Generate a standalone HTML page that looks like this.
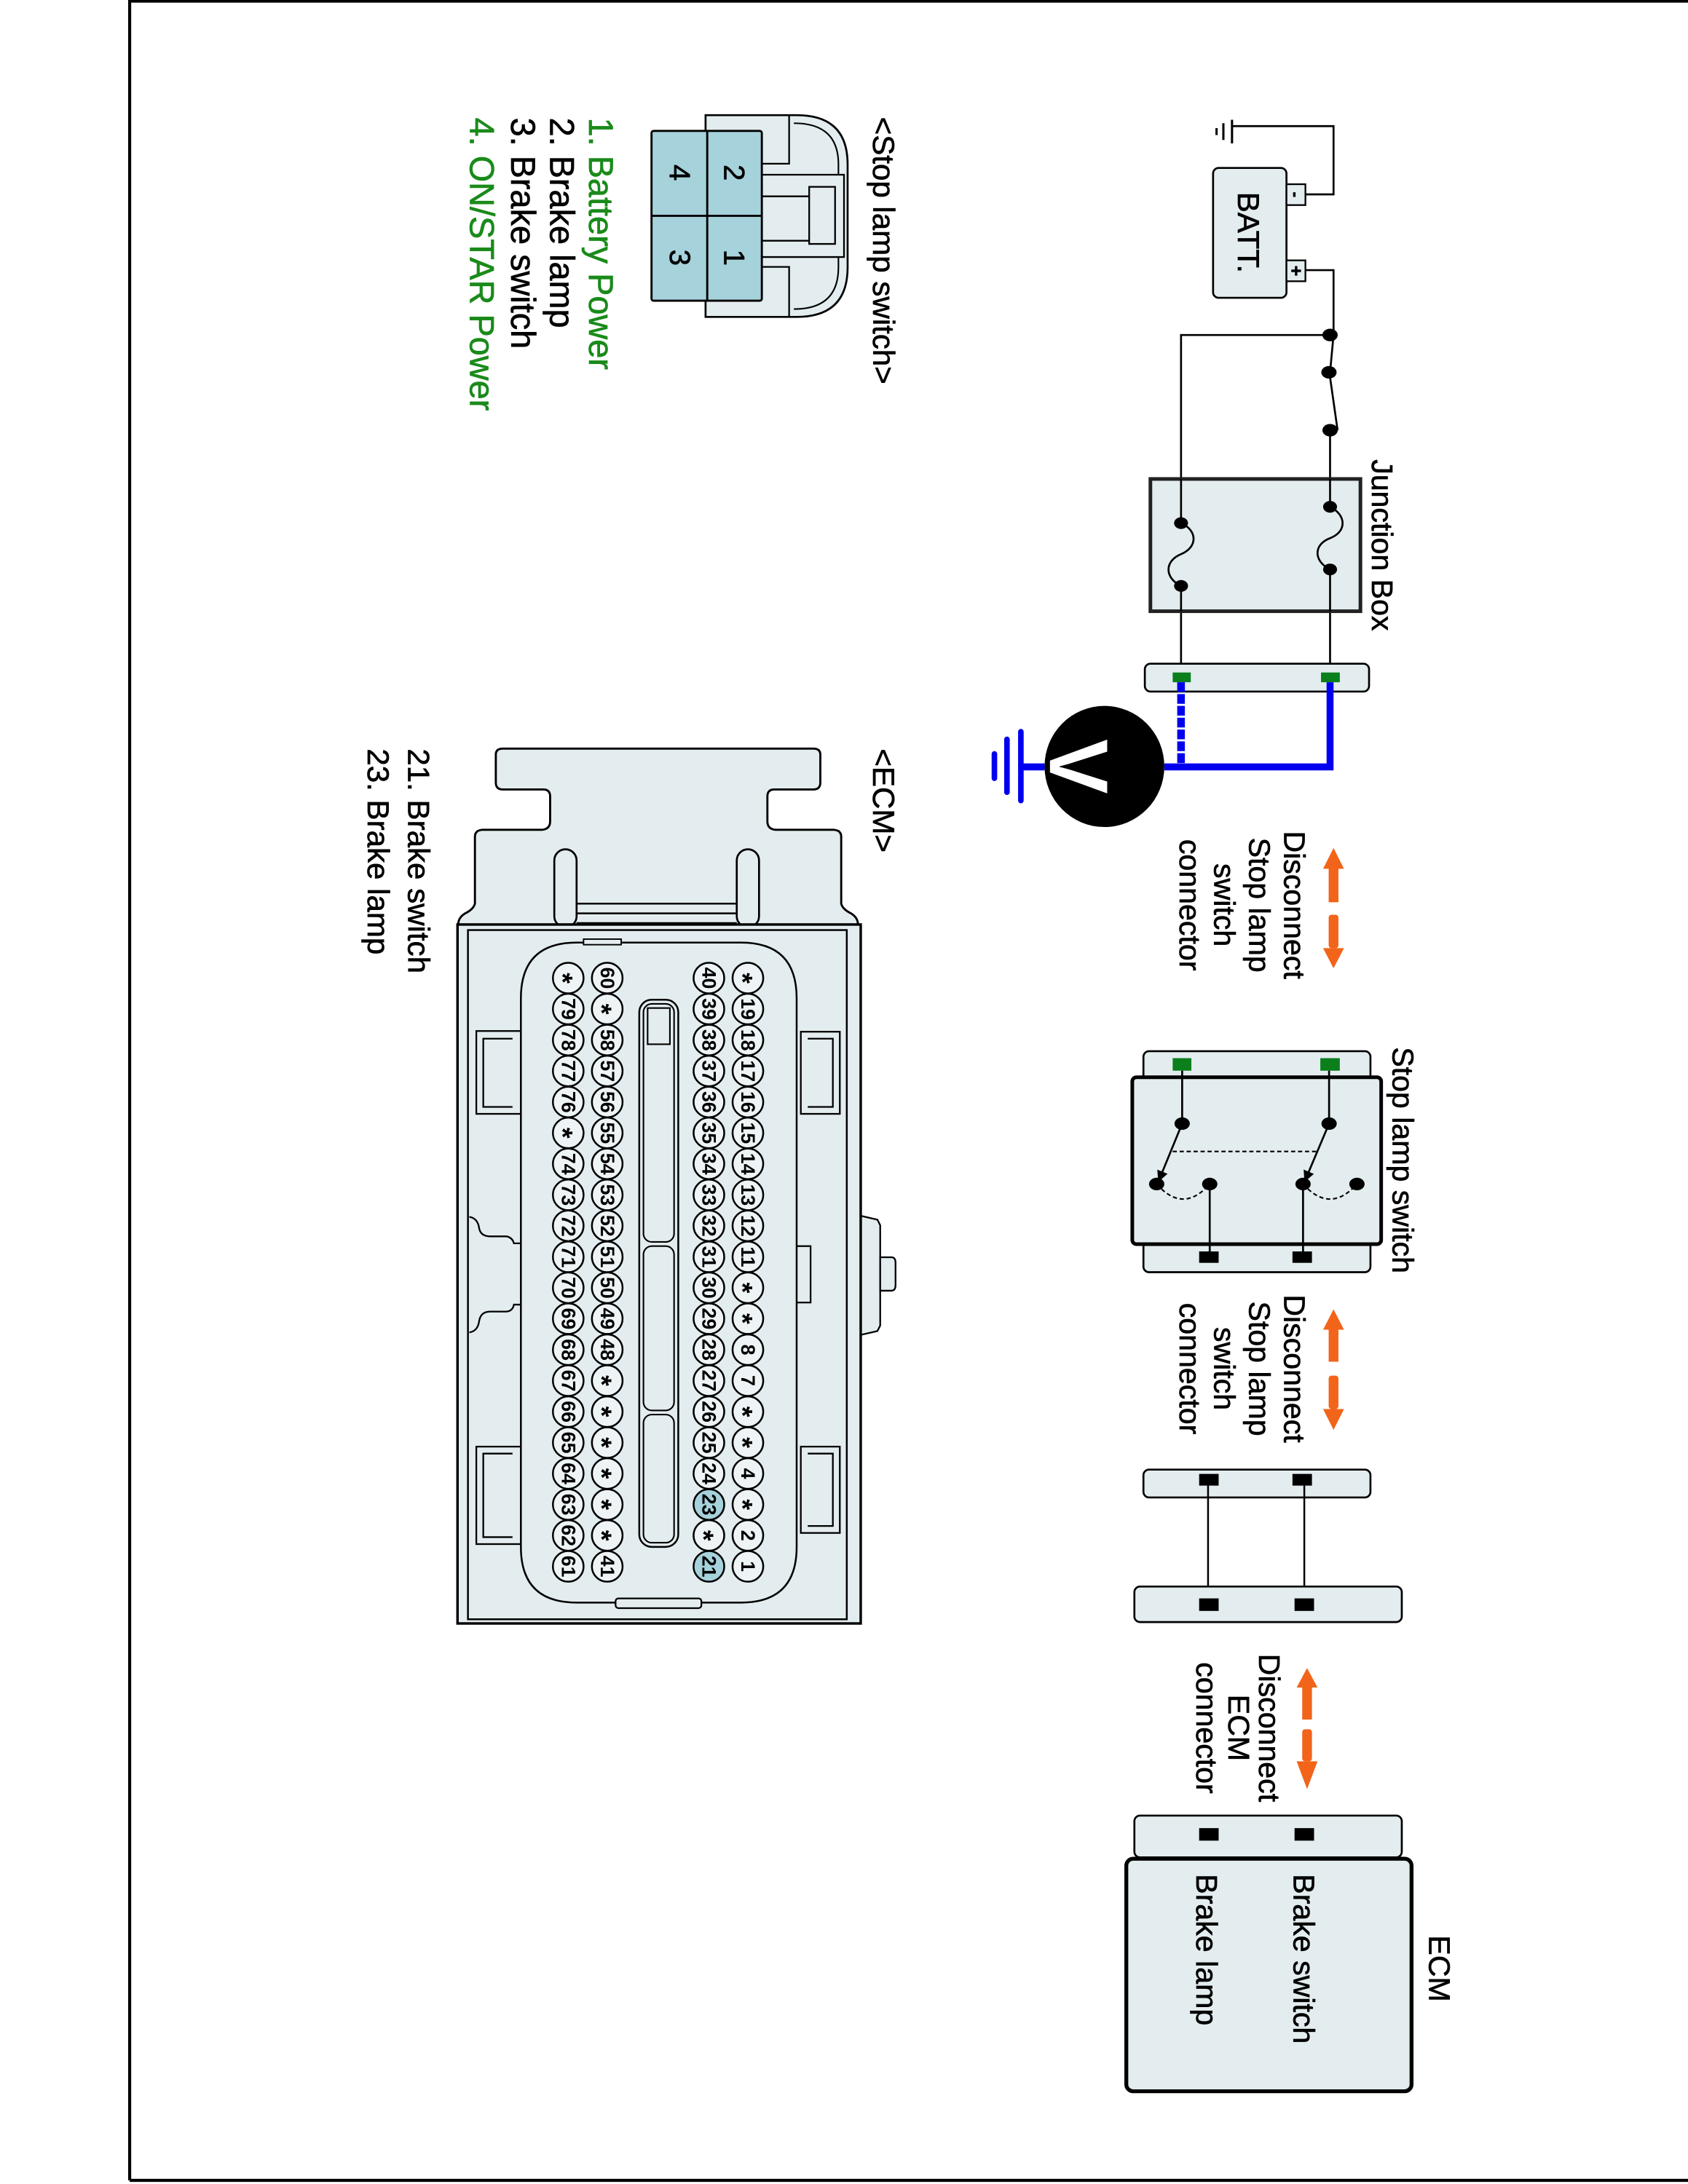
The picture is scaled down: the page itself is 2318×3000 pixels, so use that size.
<!DOCTYPE html>
<html><head><meta charset="utf-8"><style>
html,body{margin:0;padding:0;background:#fff}
svg{display:block}
text{font-family:"Liberation Sans",Arial,sans-serif;stroke:#000;stroke-width:0.35}
.p{font-size:14px;font-weight:bold;stroke-width:0;text-anchor:middle;dominant-baseline:central}
.g{fill:#1a8a1a;stroke:#1a8a1a}
</style></head><body>
<svg width="2318" height="3000" viewBox="0 0 1212 1568.6" xmlns="http://www.w3.org/2000/svg">
<defs>
<marker id="ar" markerWidth="8" markerHeight="8" refX="7" refY="4" orient="auto" markerUnits="userSpaceOnUse"><path d="M0,0 L8,4 L0,8 Z" fill="#000"/></marker>
</defs>
<rect x="0" y="0" width="1212" height="1568.6" fill="#fff"/>
<path d="M93.1,1566 L93.1,0.8 L1230,0.8 M93.1,1566 L1230,1566" fill="none" stroke="#000" stroke-width="2.2"/>

<g stroke="#000" stroke-width="1.4" fill="none">
<path d="M937.3,139.6 L957.5,139.6 L957.5,90.6 L884.6,90.6"/>
<path d="M884.6,86 L884.6,103 M878.4,88.5 L878.4,100.5 M873.5,92 L873.5,97" stroke-width="1.6"/>
<path d="M937.3,194 L957.5,194 L957.5,240.6 L955,267.4"/>
<path d="M955,240.6 L848,240.6 L848,476.7"/>
<path d="M954.5,267.4 L960.4,309"/>
<path d="M955,309 L955,476.7"/>
</g>
<rect x="871" y="120.6" width="52.7" height="93.3" rx="4" fill="#e3ecee" stroke="#000" stroke-width="1.4"/>
<rect x="923.7" y="132.3" width="13.6" height="15" fill="#e3ecee" stroke="#000" stroke-width="1.2"/>
<rect x="923.7" y="187" width="13.6" height="15" fill="#e3ecee" stroke="#000" stroke-width="1.2"/>
<text transform="translate(930.5,139.8) rotate(90)" font-size="12" font-weight="bold" text-anchor="middle" dominant-baseline="central">-</text>
<text transform="translate(930.5,194.5) rotate(90)" font-size="13" font-weight="bold" text-anchor="middle" dominant-baseline="central">+</text>
<text transform="translate(889,167) rotate(90)" font-size="22" text-anchor="middle">BATT.</text>
<g fill="#000"><ellipse cx="955" cy="240.6" rx="5.5" ry="4.5"/><ellipse cx="954.2" cy="267.4" rx="5.5" ry="4.5"/><ellipse cx="955" cy="309" rx="5.5" ry="4.5"/></g>

<rect x="826" y="344" width="150.8" height="95" fill="#e3ecee" stroke="#222" stroke-width="2.6"/>
<g stroke="#000" stroke-width="1.4" fill="none">
<path d="M955,344 L955,364 C967,370 967,382 955,386.5 C943,391 943,403 955,409 L955,439"/>
<path d="M848,344 L848,375.7 C860,381 860,393 848,398 C836,403 836,415 848,420.8 L848,439"/>
</g>
<g fill="#000"><ellipse cx="955" cy="364" rx="5" ry="4.2"/><ellipse cx="955" cy="409" rx="5" ry="4.2"/><ellipse cx="848" cy="375.7" rx="5" ry="4.2"/><ellipse cx="848" cy="420.8" rx="5" ry="4.2"/></g>
<text transform="translate(985,330) rotate(90)" font-size="21.5">Junction Box</text>

<rect x="822" y="476.7" width="161" height="20" rx="4" fill="#e3ecee" stroke="#000" stroke-width="1.4"/>
<rect x="842" y="483" width="13" height="7" fill="#0b7f1c"/>
<rect x="948.5" y="483" width="13.5" height="7" fill="#0b7f1c"/>

<path d="M955,490 L955,550.8 L836,550.8" fill="none" stroke="#0000ee" stroke-width="5"/>
<path d="M848,490 L848,550.8" fill="none" stroke="#0000ee" stroke-width="5.5" stroke-dasharray="7,1.5"/>
<path d="M750,550.8 L733,550.8" stroke="#0000ee" stroke-width="5"/>
<path d="M733,525.5 L733,575 M723,531 L723,569 M714,541.5 L714,559" stroke="#0000ee" stroke-width="4" stroke-linecap="round"/>
<ellipse cx="793" cy="550.5" rx="43" ry="43.5" fill="#000"/>
<text transform="translate(774,550.5) rotate(90)" font-size="60" font-weight="bold" fill="#fff" stroke="#fff" text-anchor="middle" dominant-baseline="central">V</text>

<g fill="#f26419">
<path d="M957.5,609 L965,624 L961,624 L961,648 L954,648 L954,624 L950,624 Z"/>
<rect x="954" y="657" width="7" height="24" rx="2"/>
<path d="M957.5,695.5 L965,681 L950,681 Z"/>
<path d="M957.5,940.4 L965,955 L961,955 L961,978 L954,978 L954,955 L950,955 Z"/>
<rect x="954" y="988" width="7" height="24" rx="2"/>
<path d="M957.5,1027 L965,1012 L950,1012 Z"/>
<path d="M938.5,1198 L946,1212 L942,1212 L942,1235 L935,1235 L935,1212 L931,1212 Z"/>
<rect x="935" y="1242" width="7" height="23" rx="2"/>
<path d="M938.5,1285 L946,1265 L931,1265 Z"/>
</g>
<g font-size="21.5" text-anchor="middle">
<text transform="translate(922,650) rotate(90)">Disconnect</text>
<text transform="translate(897,650) rotate(90)">Stop lamp</text>
<text transform="translate(872,650) rotate(90)">switch</text>
<text transform="translate(847,650) rotate(90)">connector</text>
<text transform="translate(922,983) rotate(90)">Disconnect</text>
<text transform="translate(897,983) rotate(90)">Stop lamp</text>
<text transform="translate(872,983) rotate(90)">switch</text>
<text transform="translate(847,983) rotate(90)">connector</text>
<text transform="translate(904,1241) rotate(90)">Disconnect</text>
<text transform="translate(882,1241) rotate(90)">ECM</text>
<text transform="translate(859,1241) rotate(90)">connector</text>
</g>

<rect x="821" y="755" width="163" height="22" rx="4" fill="#e3ecee" stroke="#000" stroke-width="1.4"/>
<rect x="821" y="890" width="163" height="23.7" rx="4" fill="#e3ecee" stroke="#000" stroke-width="1.4"/>
<rect x="813" y="773.7" width="178.7" height="119.9" rx="3" fill="#e3ecee" stroke="#000" stroke-width="2.6"/>
<rect x="842" y="760" width="13.4" height="9" fill="#0b7f1c"/>
<rect x="948" y="760" width="14" height="9" fill="#0b7f1c"/>
<rect x="861" y="898.8" width="14" height="8.2" fill="#000"/>
<rect x="928" y="898.8" width="14" height="8.2" fill="#000"/>
<g stroke="#000" stroke-width="1.4" fill="none">
<path d="M848.8,769 L848.8,807 M954.3,769 L954.3,807"/>
<path d="M848.8,807 L832,848" marker-end="url(#ar)"/>
<path d="M954.3,807 L937,848" marker-end="url(#ar)"/>
<path d="M842,827 L945,827" stroke-dasharray="3,2" stroke-width="1.1"/>
<path d="M830.5,850.4 Q849.5,872 868.6,850.4" stroke-dasharray="3,2" stroke-width="1.1"/>
<path d="M935.6,850.4 Q955,872 974.3,850.4" stroke-dasharray="3,2" stroke-width="1.1"/>
<path d="M868.6,850.4 L868.6,899 M935.6,850.4 L935.6,899"/>
</g>
<g fill="#000"><ellipse cx="848.8" cy="807" rx="5.5" ry="4.5"/><ellipse cx="954.3" cy="807" rx="5.5" ry="4.5"/><ellipse cx="830.5" cy="850.4" rx="5.5" ry="4.5"/><ellipse cx="868.6" cy="850.4" rx="5.5" ry="4.5"/><ellipse cx="935.6" cy="850.4" rx="5.5" ry="4.5"/><ellipse cx="974.3" cy="850.4" rx="5.5" ry="4.5"/></g>
<text transform="translate(1000,752) rotate(90)" font-size="21.5">Stop lamp switch</text>

<rect x="821" y="1055.5" width="163" height="20" rx="4" fill="#e3ecee" stroke="#000" stroke-width="1.4"/>
<rect x="861" y="1058.6" width="14" height="8.4" fill="#000"/>
<rect x="928" y="1058.6" width="14" height="8.4" fill="#000"/>
<path d="M867.4,1067 L867.4,1150 M936.5,1067 L936.5,1150" stroke="#000" stroke-width="1.3"/>
<rect x="814.5" y="1139.5" width="192" height="25.5" rx="4" fill="#e3ecee" stroke="#000" stroke-width="1.4"/>
<rect x="861" y="1148" width="14" height="9" fill="#000"/>
<rect x="929.5" y="1148" width="14" height="9" fill="#000"/>

<rect x="814.5" y="1304" width="192" height="30" rx="4" fill="#e3ecee" stroke="#000" stroke-width="1.4"/>
<rect x="861" y="1313" width="14" height="9" fill="#000"/>
<rect x="929.5" y="1313" width="14" height="9" fill="#000"/>
<rect x="808.7" y="1335" width="204.8" height="167" rx="5" fill="#e3ecee" stroke="#000" stroke-width="2.8"/>
<text transform="translate(929,1346) rotate(90)" font-size="21.5">Brake switch</text>
<text transform="translate(859,1346) rotate(90)" font-size="21.5">Brake lamp</text>
<text transform="translate(1026,1390) rotate(90)" font-size="21.5">ECM</text>

<text transform="translate(627,84) rotate(90)" font-size="22">&lt;Stop lamp switch&gt;</text>
<path d="M506.6,82.7 L572,82.7 Q608.6,82.7 608.6,118 L608.6,192 Q608.6,227.6 572,227.6 L506.6,227.6 Z" fill="#e3ecee" stroke="#000" stroke-width="1.4"/>
<path d="M566.6,82.7 L566.6,117.6 L547,117.6 M566.6,227.6 L566.6,191.7 L547,191.7 M547,125.5 L606,125.5 L606,184.6 L547,184.6 M547,141 L581,141 M547,172.9 L581,172.9" fill="none" stroke="#000" stroke-width="1.2"/>
<path d="M570,88.5 Q602,88.5 602,118 L602,125.5 M602,184.6 L602,192 Q602,222 570,222" fill="none" stroke="#000" stroke-width="1.1"/>
<rect x="581" y="134.2" width="18.6" height="41" fill="#e3ecee" stroke="#000" stroke-width="1.2"/>
<rect x="467.8" y="94" width="79.2" height="122" rx="1.5" fill="#a6d2db" stroke="#000" stroke-width="1.5"/>
<path d="M507.8,94 L507.8,216 M467.8,155 L547,155" stroke="#000" stroke-width="1.5"/>
<g font-size="21" text-anchor="middle" dominant-baseline="central">
<text transform="translate(527,124) rotate(90)">2</text>
<text transform="translate(527,185) rotate(90)">1</text>
<text transform="translate(488,124) rotate(90)">4</text>
<text transform="translate(488,185) rotate(90)">3</text>
</g>
<g font-size="24.5">
<text class="g" transform="translate(423,84.5) rotate(90)">1. Battery Power</text>
<text transform="translate(395,84.5) rotate(90)">2. Brake lamp</text>
<text transform="translate(367,84.5) rotate(90)">3. Brake switch</text>
<text class="g" transform="translate(337.5,84.5) rotate(90)">4. ON/STAR Power</text>
</g>

<text transform="translate(627,537.7) rotate(90)" font-size="22">&lt;ECM&gt;</text>
<text transform="translate(293,537.7) rotate(90)" font-size="22">21. Brake switch</text>
<text transform="translate(264,537.7) rotate(90)" font-size="22">23. Brake lamp</text>
<path d="M356,562 L356,542 Q356,537.7 361,537.7 L584,537.7 Q589,537.7 589,542 L589,562 Q589,567 584,567 L556,567 Q551,567 551,572 L551,590 Q551,595.5 557,596 L599,596 Q604,596.5 604,601 L604,649 Q605,653 611,656 Q616,659 616,664 L329,664 Q329,659 334,656 Q340,653 341,649 L341,601 Q341,596.5 346,596 L389,596 Q395,595.5 395,590 L395,572 Q395,567 390,567 L361,567 Q356,567 356,562 Z" fill="#e3ecee" stroke="#000" stroke-width="1.5"/>
<rect x="398" y="610" width="16" height="56" rx="8" fill="#e3ecee" stroke="#000" stroke-width="1.4"/>
<rect x="529" y="610" width="16" height="56" rx="8" fill="#e3ecee" stroke="#000" stroke-width="1.4"/>
<path d="M414,649 L529,649 M414,656 L529,656 M414,663 L529,663" stroke="#000" stroke-width="1.3"/>
<path d="M617,873 L630,876 L632,880 L632,952 L630,956 L617,959 Z" fill="#e3ecee" stroke="#000" stroke-width="1.2"/>
<path d="M632,903 L640,903 Q643,903 643,907 L643,923 Q643,927 640,927 L632,927 Z" fill="#e3ecee" stroke="#000" stroke-width="1.2"/>
<rect x="328.5" y="664" width="289.5" height="502" fill="#e3ecee" stroke="#000" stroke-width="1.8"/>
<rect x="336" y="668" width="272" height="495" fill="#e3ecee" stroke="#000" stroke-width="1.3"/>
<g fill="#e3ecee" stroke="#000" stroke-width="1.2">
<rect x="575" y="741" width="28" height="59"/><path d="M580,746 L598,746 L598,795 L580,795" fill="none"/>
<rect x="575" y="1039" width="28" height="62"/><path d="M580,1044 L598,1044 L598,1096 L580,1096" fill="none"/>
<rect x="342" y="740.5" width="32" height="59.5"/><path d="M368,746 L347,746 L347,795 L368,795" fill="none"/>
<rect x="342" y="1039" width="32" height="70"/><path d="M368,1044 L347,1044 L347,1104 L368,1104" fill="none"/>
<rect x="570" y="895" width="12" height="40.5"/>
<path d="M337,874 Q343,875 344,882 Q345,888 352,888 L364,888 Q368,889 369,893 L374,893 L374,937 L369,937 Q368,942 363,942 L352,942 Q345,942 344,949 Q343,956 337,957" fill="none"/>
</g>
<path d="M414,677 L532,677 Q572,677 572,717 L572,1111 Q572,1151 532,1151 L414,1151 Q374,1151 374,1111 L374,717 Q374,677 414,677 Z" fill="#e3ecee" stroke="#000" stroke-width="1.3"/>
<rect x="419" y="674.5" width="27" height="4" fill="#e3ecee" stroke="#000" stroke-width="1"/>
<rect x="442" y="1148" width="61.6" height="7" rx="2" fill="#e3ecee" stroke="#000" stroke-width="1.2"/>
<rect x="459" y="718" width="28" height="393" rx="9" fill="#e3ecee" stroke="#000" stroke-width="1.3"/>
<g fill="#e3ecee" stroke="#000" stroke-width="1.1">
<rect x="462" y="721" width="22" height="171" rx="6"/>
<rect x="462" y="895" width="22" height="118" rx="6"/>
<rect x="462" y="1016" width="22" height="92" rx="6"/>
<rect x="465" y="724" width="16" height="26"/>
</g>
<g stroke="#000" stroke-width="1.3" fill="#eef4f5">
<g>
<circle cx="537" cy="702.5" r="11"/><circle cx="537" cy="724.7" r="11"/><circle cx="537" cy="747" r="11"/><circle cx="537" cy="769.2" r="11"/><circle cx="537" cy="791.5" r="11"/><circle cx="537" cy="813.7" r="11"/><circle cx="537" cy="835.9" r="11"/><circle cx="537" cy="858.2" r="11"/><circle cx="537" cy="880.4" r="11"/><circle cx="537" cy="902.7" r="11"/><circle cx="537" cy="924.9" r="11"/><circle cx="537" cy="947.1" r="11"/><circle cx="537" cy="969.4" r="11"/><circle cx="537" cy="991.6" r="11"/><circle cx="537" cy="1013.9" r="11"/><circle cx="537" cy="1036.1" r="11"/><circle cx="537" cy="1058.3" r="11"/><circle cx="537" cy="1080.6" r="11"/><circle cx="537" cy="1102.8" r="11"/><circle cx="537" cy="1125" r="11"/>
</g>
<g>
<circle cx="509" cy="702.5" r="11"/><circle cx="509" cy="724.7" r="11"/><circle cx="509" cy="747" r="11"/><circle cx="509" cy="769.2" r="11"/><circle cx="509" cy="791.5" r="11"/><circle cx="509" cy="813.7" r="11"/><circle cx="509" cy="835.9" r="11"/><circle cx="509" cy="858.2" r="11"/><circle cx="509" cy="880.4" r="11"/><circle cx="509" cy="902.7" r="11"/><circle cx="509" cy="924.9" r="11"/><circle cx="509" cy="947.1" r="11"/><circle cx="509" cy="969.4" r="11"/><circle cx="509" cy="991.6" r="11"/><circle cx="509" cy="1013.9" r="11"/><circle cx="509" cy="1036.1" r="11"/><circle cx="509" cy="1058.3" r="11"/><circle cx="509" cy="1080.6" r="11" fill="#a6d2db"/><circle cx="509" cy="1102.8" r="11"/><circle cx="509" cy="1125" r="11" fill="#a6d2db"/>
</g>
<g>
<circle cx="436" cy="702.5" r="11"/><circle cx="436" cy="724.7" r="11"/><circle cx="436" cy="747" r="11"/><circle cx="436" cy="769.2" r="11"/><circle cx="436" cy="791.5" r="11"/><circle cx="436" cy="813.7" r="11"/><circle cx="436" cy="835.9" r="11"/><circle cx="436" cy="858.2" r="11"/><circle cx="436" cy="880.4" r="11"/><circle cx="436" cy="902.7" r="11"/><circle cx="436" cy="924.9" r="11"/><circle cx="436" cy="947.1" r="11"/><circle cx="436" cy="969.4" r="11"/><circle cx="436" cy="991.6" r="11"/><circle cx="436" cy="1013.9" r="11"/><circle cx="436" cy="1036.1" r="11"/><circle cx="436" cy="1058.3" r="11"/><circle cx="436" cy="1080.6" r="11"/><circle cx="436" cy="1102.8" r="11"/><circle cx="436" cy="1125" r="11"/>
</g>
<g>
<circle cx="408" cy="702.5" r="11"/><circle cx="408" cy="724.7" r="11"/><circle cx="408" cy="747" r="11"/><circle cx="408" cy="769.2" r="11"/><circle cx="408" cy="791.5" r="11"/><circle cx="408" cy="813.7" r="11"/><circle cx="408" cy="835.9" r="11"/><circle cx="408" cy="858.2" r="11"/><circle cx="408" cy="880.4" r="11"/><circle cx="408" cy="902.7" r="11"/><circle cx="408" cy="924.9" r="11"/><circle cx="408" cy="947.1" r="11"/><circle cx="408" cy="969.4" r="11"/><circle cx="408" cy="991.6" r="11"/><circle cx="408" cy="1013.9" r="11"/><circle cx="408" cy="1036.1" r="11"/><circle cx="408" cy="1058.3" r="11"/><circle cx="408" cy="1080.6" r="11"/><circle cx="408" cy="1102.8" r="11"/><circle cx="408" cy="1125" r="11"/>
</g>
</g>
<g>
<text class="p" style="font-size:20px" transform="translate(533,702.5) rotate(90)">*</text>
<text class="p" transform="translate(537,724.7) rotate(90)">19</text>
<text class="p" transform="translate(537,747) rotate(90)">18</text>
<text class="p" transform="translate(537,769.2) rotate(90)">17</text>
<text class="p" transform="translate(537,791.5) rotate(90)">16</text>
<text class="p" transform="translate(537,813.7) rotate(90)">15</text>
<text class="p" transform="translate(537,835.9) rotate(90)">14</text>
<text class="p" transform="translate(537,858.2) rotate(90)">13</text>
<text class="p" transform="translate(537,880.4) rotate(90)">12</text>
<text class="p" transform="translate(537,902.7) rotate(90)">11</text>
<text class="p" style="font-size:20px" transform="translate(533,924.9) rotate(90)">*</text>
<text class="p" style="font-size:20px" transform="translate(533,947.1) rotate(90)">*</text>
<text class="p" transform="translate(537,969.4) rotate(90)">8</text>
<text class="p" transform="translate(537,991.6) rotate(90)">7</text>
<text class="p" style="font-size:20px" transform="translate(533,1013.9) rotate(90)">*</text>
<text class="p" style="font-size:20px" transform="translate(533,1036.1) rotate(90)">*</text>
<text class="p" transform="translate(537,1058.3) rotate(90)">4</text>
<text class="p" style="font-size:20px" transform="translate(533,1080.6) rotate(90)">*</text>
<text class="p" transform="translate(537,1102.8) rotate(90)">2</text>
<text class="p" transform="translate(537,1125) rotate(90)">1</text>

<text class="p" transform="translate(509,702.5) rotate(90)">40</text>
<text class="p" transform="translate(509,724.7) rotate(90)">39</text>
<text class="p" transform="translate(509,747) rotate(90)">38</text>
<text class="p" transform="translate(509,769.2) rotate(90)">37</text>
<text class="p" transform="translate(509,791.5) rotate(90)">36</text>
<text class="p" transform="translate(509,813.7) rotate(90)">35</text>
<text class="p" transform="translate(509,835.9) rotate(90)">34</text>
<text class="p" transform="translate(509,858.2) rotate(90)">33</text>
<text class="p" transform="translate(509,880.4) rotate(90)">32</text>
<text class="p" transform="translate(509,902.7) rotate(90)">31</text>
<text class="p" transform="translate(509,924.9) rotate(90)">30</text>
<text class="p" transform="translate(509,947.1) rotate(90)">29</text>
<text class="p" transform="translate(509,969.4) rotate(90)">28</text>
<text class="p" transform="translate(509,991.6) rotate(90)">27</text>
<text class="p" transform="translate(509,1013.9) rotate(90)">26</text>
<text class="p" transform="translate(509,1036.1) rotate(90)">25</text>
<text class="p" transform="translate(509,1058.3) rotate(90)">24</text>
<text class="p" transform="translate(509,1080.6) rotate(90)">23</text>
<text class="p" style="font-size:20px" transform="translate(505,1102.8) rotate(90)">*</text>
<text class="p" transform="translate(509,1125) rotate(90)">21</text>

<text class="p" transform="translate(436,702.5) rotate(90)">60</text>
<text class="p" style="font-size:20px" transform="translate(432,724.7) rotate(90)">*</text>
<text class="p" transform="translate(436,747) rotate(90)">58</text>
<text class="p" transform="translate(436,769.2) rotate(90)">57</text>
<text class="p" transform="translate(436,791.5) rotate(90)">56</text>
<text class="p" transform="translate(436,813.7) rotate(90)">55</text>
<text class="p" transform="translate(436,835.9) rotate(90)">54</text>
<text class="p" transform="translate(436,858.2) rotate(90)">53</text>
<text class="p" transform="translate(436,880.4) rotate(90)">52</text>
<text class="p" transform="translate(436,902.7) rotate(90)">51</text>
<text class="p" transform="translate(436,924.9) rotate(90)">50</text>
<text class="p" transform="translate(436,947.1) rotate(90)">49</text>
<text class="p" transform="translate(436,969.4) rotate(90)">48</text>
<text class="p" style="font-size:20px" transform="translate(432,991.6) rotate(90)">*</text>
<text class="p" style="font-size:20px" transform="translate(432,1013.9) rotate(90)">*</text>
<text class="p" style="font-size:20px" transform="translate(432,1036.1) rotate(90)">*</text>
<text class="p" style="font-size:20px" transform="translate(432,1058.3) rotate(90)">*</text>
<text class="p" style="font-size:20px" transform="translate(432,1080.6) rotate(90)">*</text>
<text class="p" style="font-size:20px" transform="translate(432,1102.8) rotate(90)">*</text>
<text class="p" transform="translate(436,1125) rotate(90)">41</text>

<text class="p" style="font-size:20px" transform="translate(404,702.5) rotate(90)">*</text>
<text class="p" transform="translate(408,724.7) rotate(90)">79</text>
<text class="p" transform="translate(408,747) rotate(90)">78</text>
<text class="p" transform="translate(408,769.2) rotate(90)">77</text>
<text class="p" transform="translate(408,791.5) rotate(90)">76</text>
<text class="p" style="font-size:20px" transform="translate(404,813.7) rotate(90)">*</text>
<text class="p" transform="translate(408,835.9) rotate(90)">74</text>
<text class="p" transform="translate(408,858.2) rotate(90)">73</text>
<text class="p" transform="translate(408,880.4) rotate(90)">72</text>
<text class="p" transform="translate(408,902.7) rotate(90)">71</text>
<text class="p" transform="translate(408,924.9) rotate(90)">70</text>
<text class="p" transform="translate(408,947.1) rotate(90)">69</text>
<text class="p" transform="translate(408,969.4) rotate(90)">68</text>
<text class="p" transform="translate(408,991.6) rotate(90)">67</text>
<text class="p" transform="translate(408,1013.9) rotate(90)">66</text>
<text class="p" transform="translate(408,1036.1) rotate(90)">65</text>
<text class="p" transform="translate(408,1058.3) rotate(90)">64</text>
<text class="p" transform="translate(408,1080.6) rotate(90)">63</text>
<text class="p" transform="translate(408,1102.8) rotate(90)">62</text>
<text class="p" transform="translate(408,1125) rotate(90)">61</text>
</g>
</svg>
</body></html>
